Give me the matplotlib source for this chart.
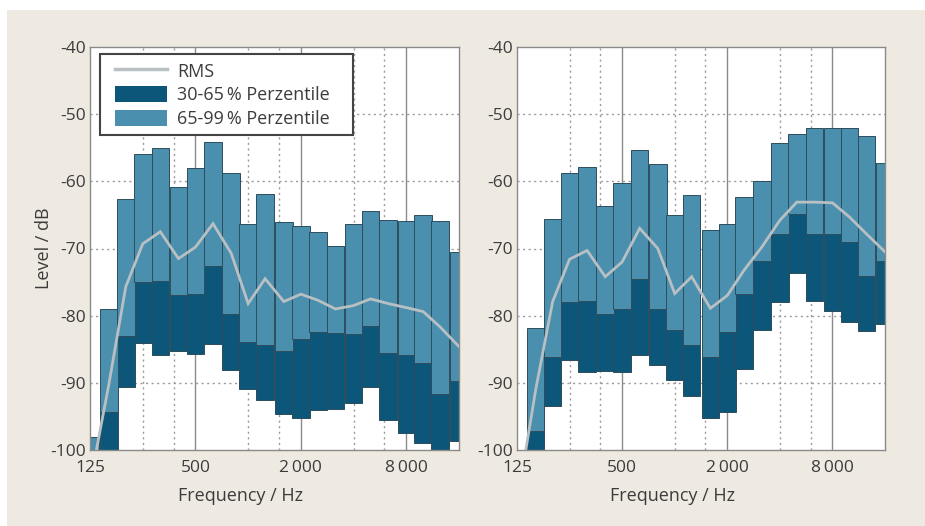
import matplotlib
matplotlib.use("Agg")
import matplotlib.pyplot as plt
from matplotlib.patches import Patch, Rectangle
from matplotlib.lines import Line2D
import numpy as np

plt.rcParams['font.family'] = ['Open Sans', 'DejaVu Sans']

# Third-octave band centre frequencies (Hz)
bands = [125, 160, 200, 250, 315, 400, 500, 630, 800, 1000, 1250, 1600,
         2000, 2500, 3150, 4000, 5000, 6300, 8000, 10000, 12500, 16000]

# Left panel (dB)
left_p99 = [-98.0, -79.0, -62.7, -55.9, -55.0, -60.9, -58.0, -54.2, -58.8, -66.4, -61.9,
            -66.0, -66.7, -67.6, -69.6, -66.4, -64.4, -65.8, -65.9, -65.0, -65.9, -70.5]
left_p65 = [-101.0, -94.3, -83.1, -75.0, -74.8, -76.9, -76.8, -72.6, -79.8, -83.9, -84.4,
            -85.2, -83.4, -82.5, -82.6, -82.8, -81.6, -85.5, -85.8, -87.0, -91.7, -89.7]
left_p30 = [-101.0, -101.0, -90.6, -84.0, -85.9, -85.3, -85.7, -84.2, -88.1, -90.9, -92.5,
            -94.6, -95.3, -94.0, -93.9, -93.0, -90.6, -95.6, -97.5, -99.0, -101.0, -98.7]
left_rms = [-105.0, -90.3, -75.7, -69.3, -67.5, -71.5, -69.8, -66.3, -70.7, -78.2, -74.5,
            -77.9, -76.8, -77.7, -79.0, -78.5, -77.5, -78.2, -78.8, -79.4, -81.7, -84.6]

# Right panel (dB)
right_p99 = [-101.0, -81.8, -65.6, -58.8, -57.9, -63.7, -60.3, -55.4, -57.4, -65.0, -62.0,
             -67.3, -66.4, -62.3, -59.9, -54.3, -52.9, -52.0, -52.0, -52.0, -53.3, -57.3]
right_p65 = [-101.0, -97.2, -86.2, -78.0, -77.8, -79.8, -79.0, -74.6, -79.0, -82.2, -84.4,
             -86.1, -82.5, -76.7, -71.8, -67.8, -64.9, -67.8, -67.8, -69.0, -74.1, -71.8]
right_p30 = [-101.0, -101.0, -93.4, -86.6, -88.4, -88.2, -88.4, -85.9, -87.4, -89.6, -91.9,
             -95.2, -94.4, -87.9, -82.1, -78.0, -73.6, -77.8, -79.3, -80.9, -82.3, -81.3]
right_rms = [-108.0, -91.0, -77.9, -71.6, -70.3, -74.2, -72.0, -67.0, -70.0, -76.7, -74.2,
             -78.9, -77.0, -73.2, -69.8, -65.8, -63.1, -63.1, -63.2, -65.3, -67.8, -70.5]

xticks = [125, 500, 2000, 8000]
xticklabels = ['125', '500', '2\u2009000', '8\u2009000']
minor_grid = [250, 375, 1000, 1500, 4000, 6000]
yticks = [-100, -90, -80, -70, -60, -50, -40]
ytick_labels = ['-100', '-90', '-80', '-70', '-60', '-50', '-40']

LIGHT = '#4a8fae'
DARK = '#0c5679'
EDGE = '#2e4d5c'
RMS_C = '#b8c0c3'
TXT = '#3c3c3c'
BG = '#eeeae1'

fig = plt.figure(figsize=(9.25, 5.26), dpi=100, facecolor='white')
fig.patches.append(Rectangle((7 / 925, 0), 1, 1 - 10 / 526, transform=fig.transFigure,
                             facecolor=BG, edgecolor='none', zorder=-10))

ax1 = fig.add_axes([90 / 925, 76 / 526, 369 / 925, 403 / 526])
ax2 = fig.add_axes([517 / 925, 76 / 526, 368 / 925, 403 / 526])

f = np.array(bands, dtype=float)
lo = f * 2 ** (-1 / 6)
hi = f * 2 ** (1 / 6)
w = hi - lo


def draw(ax, p99, p65, p30, rms, ylabel, xlab_x):
    ax.set_facecolor('white')
    ax.set_xscale('log')
    ax.set_xlim(125, 16000)
    ax.set_ylim(-100, -40)
    p99 = np.array(p99); p65 = np.array(p65); p30 = np.array(p30)
    ax.bar(lo, p65 - p30, width=w, bottom=p30, align='edge', color=DARK,
           edgecolor=EDGE, linewidth=0.7, zorder=2)
    ax.bar(lo, p99 - p65, width=w, bottom=p65, align='edge', color=LIGHT,
           edgecolor=EDGE, linewidth=0.7, zorder=2)
    ax.plot(f, rms, color=RMS_C, linewidth=2.0, zorder=3, solid_joinstyle='miter')
    # grid
    for x in xticks[1:]:
        ax.axvline(x, color='#8a8a8a', linewidth=1.0, zorder=1)
    for x in minor_grid:
        ax.axvline(x, color='#9a9a9a', linewidth=1.0, linestyle=(0, (1.5, 2.5)), zorder=1)
    for y in yticks[1:-1]:
        ax.axhline(y, color='#9a9a9a', linewidth=1.0, linestyle=(0, (1.5, 2.5)), zorder=1)
    ax.set_xticks(xticks)
    ax.set_xticklabels(xticklabels)
    ax.xaxis.set_minor_locator(matplotlib.ticker.NullLocator())
    ax.set_yticks(yticks)
    ax.set_yticklabels(ytick_labels)
    ax.tick_params(length=0, labelsize=12.5, colors=TXT)
    ax.tick_params(axis='x', pad=7)
    ax.tick_params(axis='y', pad=3)
    for s in ax.spines.values():
        s.set_color('#8a8a8a')
        s.set_linewidth(1.0)
    ax.set_xlabel('Frequency / Hz', fontsize=13, color=TXT)
    ax.xaxis.set_label_coords(xlab_x, -0.093)
    if ylabel:
        ax.set_ylabel('Level / dB', fontsize=13, color=TXT)
        ax.yaxis.set_label_coords(-0.10, 0.5)


draw(ax1, left_p99, left_p65, left_p30, left_rms, True, 0.407)
draw(ax2, right_p99, right_p65, right_p30, right_rms, False, 0.424)

# legend frame (fixed box) and contents
ax1.add_patch(Rectangle((0.0271, 0.781), 0.712 - 0.0271, 0.982 - 0.781,
                        transform=ax1.transAxes, facecolor='white', edgecolor='#444444',
                        linewidth=1.5, zorder=4, clip_on=False))
handles = [Line2D([0], [0], color=RMS_C, linewidth=2.5),
           Patch(facecolor=DARK, edgecolor='none'),
           Patch(facecolor=LIGHT, edgecolor='none')]
labels = ['RMS', '30-65\u2009% Perzentile', '65-99\u2009% Perzentile']
leg = ax1.legend(handles, labels, loc='upper left', bbox_to_anchor=(0.0678, 0.962),
                 borderaxespad=0, fontsize=13, handlelength=2.9, handleheight=1.0,
                 handletextpad=0.55, labelspacing=0.3, borderpad=0,
                 frameon=False)
for t in leg.get_texts():
    t.set_color(TXT)
leg.set_zorder(5)

fig.savefig('out.png', dpi=100, facecolor=fig.get_facecolor())
